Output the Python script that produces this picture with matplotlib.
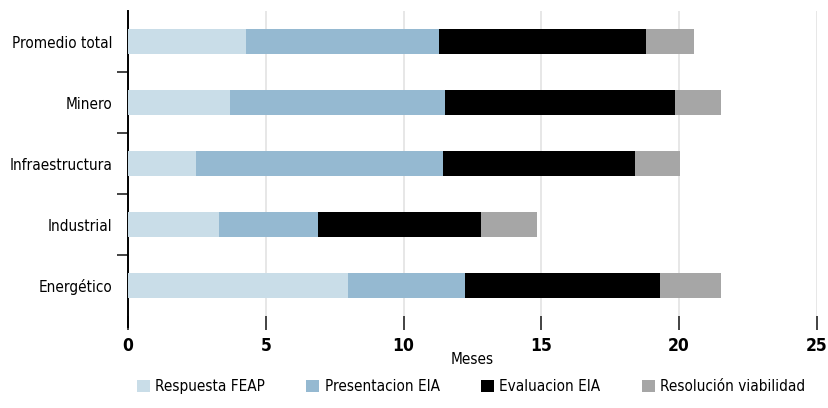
import numpy as np
import matplotlib
matplotlib.use("Agg")
import matplotlib.pyplot as plt
from matplotlib.ticker import FixedLocator

plt.rcParams['font.family'] = ['DejaVu Sans']
plt.rcParams['font.stretch'] = 'condensed'

sectores = ["Promedio total", "Minero", "Infraestructura", "Industrial", "Energético"]
etapas = ["Respuesta FEAP", "Presentacion EIA", "Evaluacion EIA", "Resolución viabilidad"]
colores = ["#c9dde8", "#95b9d1", "#000000", "#a6a6a6"]

# meses por etapa, en el orden de sectores
respuesta_feap = [4.28, 3.70, 2.47, 3.30, 7.98]
presentacion_eia = [7.00, 7.80, 8.96, 3.59, 4.24]
evaluacion_eia = [7.51, 8.34, 6.96, 5.91, 7.08]
resolucion = [1.74, 1.67, 1.63, 2.04, 2.21]

fig = plt.figure(figsize=(8.29, 4.08), dpi=100)
ax = fig.add_axes([0.1544, 0.2255, 0.831, 0.7475])

y = np.arange(len(sectores))
izq = np.zeros(len(sectores))
for vals, nombre, c in zip([respuesta_feap, presentacion_eia, evaluacion_eia, resolucion], etapas, colores):
    ax.barh(y, vals, left=izq, height=0.41, color=c, label=nombre, zorder=3)
    izq += np.array(vals)

ax.set_xlim(0, 25)
ax.set_ylim(len(sectores) - 0.5, -0.5)
ax.set_xticks([0, 5, 10, 15, 20, 25])
ax.tick_params(axis='x', length=10, width=1.2, color='#222222', pad=5, labelsize=12.5)
for t in ax.get_xticklabels():
    t.set_fontweight('bold')
ax.grid(axis='x', color='#e3e3e3', linewidth=1.2, zorder=0)
ax.set_axisbelow(True)

# nombres en el centro, marcas entre sectores
ax.yaxis.set_major_locator(FixedLocator([0.5, 1.5, 2.5, 3.5]))
ax.yaxis.set_minor_locator(FixedLocator(list(y)))
ax.set_yticklabels([])
ax.set_yticklabels(sectores, minor=True)
ax.tick_params(axis='y', which='major', length=8, width=1.2, color='#222222')
ax.tick_params(axis='y', which='minor', length=0, pad=11, labelsize=11)

for s in ['top', 'right', 'bottom']:
    ax.spines[s].set_visible(False)
ax.spines['left'].set_linewidth(1.4)
ax.spines['left'].set_bounds(-0.5, 4.68)

ax.set_xlabel("Meses", fontsize=11, labelpad=-2)

fig.legend(loc='lower center', bbox_to_anchor=(0.568, 0.0), ncol=4, frameon=False,
           fontsize=11, handlelength=0.85, handleheight=0.85, handletextpad=0.35,
           columnspacing=2.7)

fig.savefig("out.png", dpi=100)
